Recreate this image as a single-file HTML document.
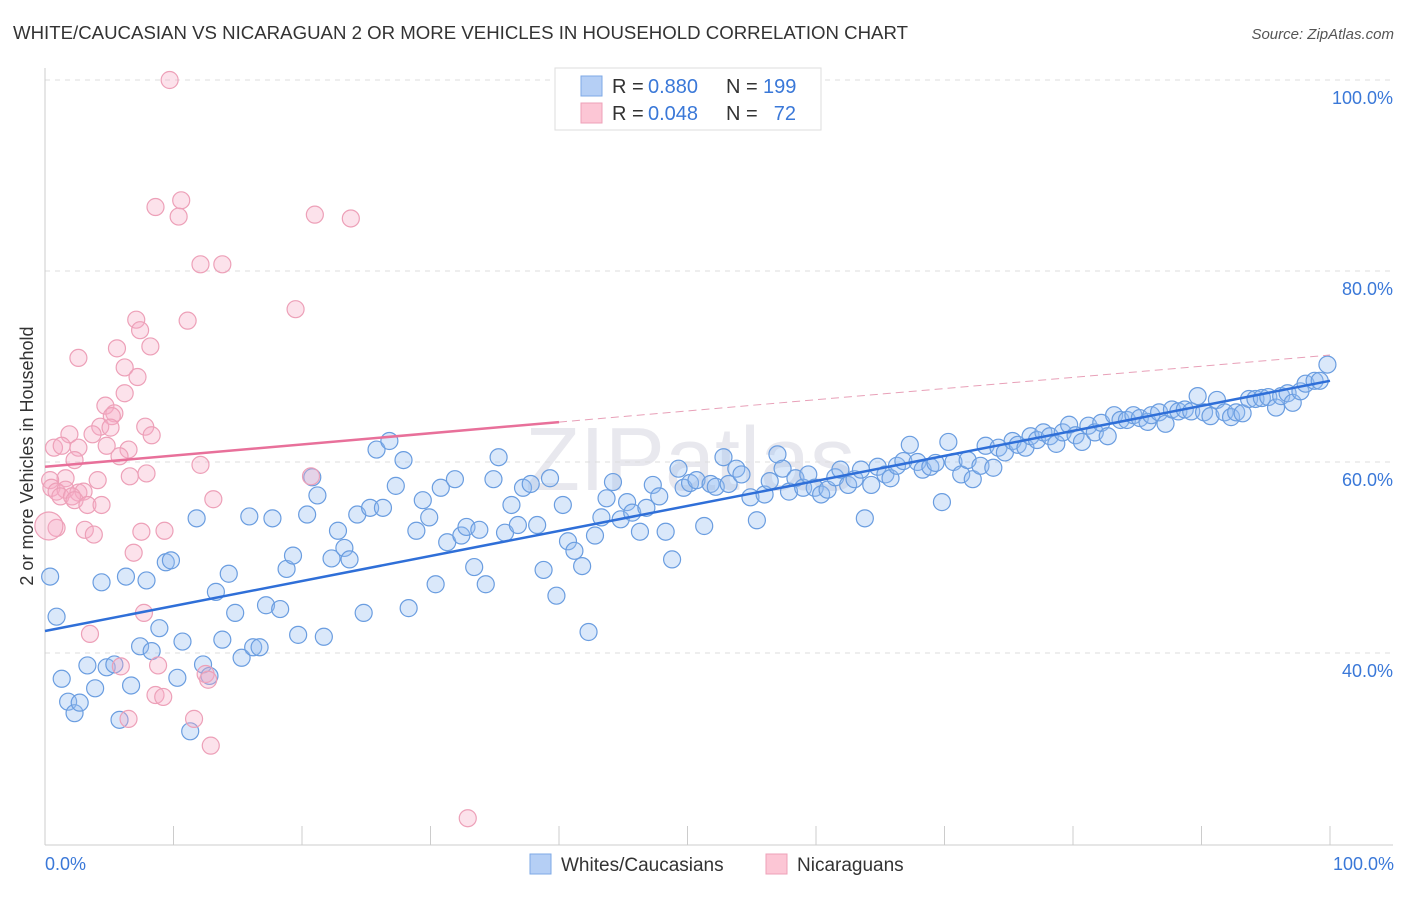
<!DOCTYPE html>
<html><head><meta charset="utf-8"><style>
body{margin:0;background:#fff;font-family:"Liberation Sans",sans-serif;}
svg text{font-family:"Liberation Sans",sans-serif;}
</style></head><body>
<svg id="chart" width="1406" height="892" xmlns="http://www.w3.org/2000/svg">
<text x="13" y="39" font-size="18" fill="#333" textLength="895" lengthAdjust="spacingAndGlyphs">WHITE/CAUCASIAN VS NICARAGUAN 2 OR MORE VEHICLES IN HOUSEHOLD CORRELATION CHART</text>
<text x="1394" y="39" font-size="15" fill="#555" text-anchor="end" font-style="italic">Source: ZipAtlas.com</text>
<text x="690" y="490" font-size="90" fill="#e8e8ee" text-anchor="middle" font-family="Liberation Serif">ZIPatlas</text>
<g id="grid"></g>
<g id="marks"></g>
<text transform="translate(33,456) rotate(-90)" font-size="18" fill="#333" text-anchor="middle">2 or more Vehicles in Household</text>
<text x="45" y="870" font-size="18" fill="#3a78d8">0.0%</text>
<text x="1394" y="870" font-size="18" fill="#3a78d8" text-anchor="end">100.0%</text>
<g>
<rect x="555" y="68" width="266" height="62" fill="#fff" stroke="#ddd"/>
<rect x="581" y="76" width="21" height="20" fill="#b5cff5" stroke="#7ea8e6"/>
<rect x="581" y="103" width="21" height="20" fill="#fcc6d5" stroke="#eea0b8"/>
<text x="612" y="93" font-size="20" fill="#333">R =</text>
<text x="648" y="93" font-size="20" fill="#3a78d8">0.880</text>
<text x="726" y="93" font-size="20" fill="#333">N =</text>
<text x="763" y="93" font-size="20" fill="#3a78d8">199</text>
<text x="612" y="120" font-size="20" fill="#333">R =</text>
<text x="648" y="120" font-size="20" fill="#3a78d8">0.048</text>
<text x="726" y="120" font-size="20" fill="#333">N =</text>
<text x="796" y="120" font-size="20" fill="#3a78d8" text-anchor="end">72</text>
</g>
<g>
<rect x="530" y="854" width="21" height="20" fill="#b5cff5" stroke="#7ea8e6"/>
<text x="561" y="871" font-size="19" fill="#333">Whites/Caucasians</text>
<rect x="766" y="854" width="21" height="20" fill="#fcc6d5" stroke="#eea0b8"/>
<text x="797" y="871" font-size="19" fill="#333">Nicaraguans</text>
</g>
</svg>
<script>
const blueX=[0.4,0.9,1.3,1.8,2.3,2.7,3.3,3.9,4.4,4.8,5.4,5.8,6.3,6.7,7.4,7.9,8.3,8.9,9.4,9.8,10.3,10.7,11.3,11.8,12.3,12.8,13.3,13.8,14.3,14.8,15.3,15.9,16.2,16.7,17.2,17.7,18.3,18.8,19.3,19.7,20.4,20.8,21.2,21.7,22.3,22.8,23.3,23.7,24.3,24.8,25.3,25.8,26.3,26.8,27.3,27.9,28.3,28.9,29.4,29.9,30.4,30.8,31.3,31.9,32.4,32.8,33.4,33.8,34.3,34.9,35.3,35.8,36.3,36.8,37.2,37.8,38.3,38.8,39.3,39.8,40.3,40.7,41.2,41.8,42.3,42.8,43.3,43.7,44.2,44.8,45.3,45.7,46.3,46.8,47.3,47.8,48.3,48.8,49.3,49.7,50.2,50.7,51.3,51.8,52.2,52.8,53.2,53.8,54.2,54.9,55.4,56.0,56.4,57.0,57.4,57.9,58.4,59.0,59.4,59.9,60.4,60.9,61.5,61.9,62.5,63.0,63.5,63.8,64.3,64.8,65.4,65.8,66.3,66.8,67.3,67.9,68.3,68.9,69.3,69.8,70.3,70.7,71.3,71.8,72.2,72.8,73.2,73.8,74.2,74.7,75.3,75.7,76.3,76.7,77.2,77.7,78.2,78.7,79.2,79.7,80.2,80.7,81.2,81.7,82.2,82.7,83.2,83.7,84.2,84.7,85.2,85.8,86.1,86.7,87.2,87.7,88.2,88.7,89.2,89.7,90.2,90.7,91.2,91.8,92.3,92.7,93.2,93.7,94.2,94.7,95.2,95.8,96.2,96.7,97.1,97.7,98.1,98.8,99.2,99.8];
const blueY=[48.0,43.8,37.3,34.9,33.7,34.8,38.7,36.3,47.4,38.5,38.8,33.0,48.0,36.6,40.7,47.6,40.2,42.6,49.5,49.7,37.4,41.2,31.8,54.1,38.8,37.6,46.4,41.4,48.3,44.2,39.5,54.3,40.6,40.6,45.0,54.1,44.6,48.8,50.2,41.9,54.5,58.4,56.5,41.7,49.9,52.8,51.0,49.8,54.5,44.2,55.2,61.3,55.2,62.2,57.5,60.2,44.7,52.8,56.0,54.2,47.2,57.3,51.6,58.2,52.3,53.2,49.0,52.9,47.2,58.2,60.5,52.6,55.5,53.4,57.3,57.7,53.4,48.7,58.3,46.0,55.5,51.7,50.7,49.1,42.2,52.3,54.2,56.2,57.9,54.0,55.8,54.7,52.7,55.2,57.6,56.4,52.7,49.8,59.3,57.3,57.8,58.1,53.3,57.7,57.4,60.5,57.7,59.3,58.7,56.3,53.9,56.6,58.0,60.8,59.3,56.9,58.3,57.3,58.7,57.3,56.6,57.1,58.4,59.2,57.6,58.2,59.2,54.1,57.6,59.5,58.7,58.3,59.6,60.1,61.8,60.0,59.2,59.5,59.9,55.8,62.1,60.0,58.7,60.2,58.2,59.6,61.7,59.4,61.5,61.0,62.2,61.8,61.5,62.7,62.3,63.1,62.7,61.9,63.1,63.9,62.8,62.1,63.8,63.1,64.1,62.7,64.9,64.4,64.4,64.9,64.6,64.2,64.9,65.2,64.0,65.5,65.3,65.5,65.3,66.9,65.2,64.8,66.5,65.2,64.7,65.2,65.1,66.6,66.6,66.7,66.8,65.7,66.9,67.2,66.2,67.4,68.2,68.5,68.5,70.2];
const pinkX=[9.7,8.6,10.6,10.4,21.0,23.8,12.1,13.8,19.5,7.1,11.1,7.4,5.6,8.2,2.6,6.2,7.2,6.2,4.7,5.4,5.2,7.8,4.3,5.1,3.7,1.9,8.3,0.7,1.3,4.8,2.6,6.5,5.8,2.3,12.1,7.9,20.7,6.6,4.1,1.6,0.4,0.5,0.9,1.6,2.6,3.0,1.2,2.1,2.3,13.1,3.3,4.4,0.9,3.1,3.8,7.5,9.3,6.9,7.7,3.5,5.9,8.8,12.5,12.7,8.6,9.2,6.5,11.6,12.9,32.9,0.3];
const pinkY=[100,86.7,87.4,85.7,85.9,85.5,80.7,80.7,76.0,74.9,74.8,73.8,71.9,72.1,70.9,69.9,68.9,67.2,65.9,65.1,64.8,63.7,63.7,63.6,62.9,62.9,62.8,61.5,61.7,61.7,61.5,61.3,60.6,60.2,59.7,58.8,58.5,58.5,58.1,58.3,58.1,57.3,56.9,57.1,56.8,56.9,56.4,56.4,56.0,56.1,55.5,55.5,53.1,52.9,52.4,52.7,52.8,50.5,44.2,42.0,38.6,38.7,37.8,37.2,35.6,35.4,33.1,33.1,30.3,22.7,53.3];
const yTicks=[40,60,80,100];
const xTicks=[0,10,20,30,40,50,60,70,80,90,100];
const blueTrend=[42.3,68.5];
const pinkTrend=[59.5,71.2];
const NS='http://www.w3.org/2000/svg';
const X=v=>45+v*12.85, Y=v=>1035-v*9.55;
const grid=document.getElementById('grid'), marks=document.getElementById('marks');
function mk(tag,attrs,parent){const e=document.createElementNS(NS,tag);for(const k in attrs)e.setAttribute(k,attrs[k]);parent.appendChild(e);return e;}
yTicks.forEach(t=>{
 const l=mk('line',{x1:45,x2:1393,y1:Y(t),y2:Y(t),stroke:'#ddd','stroke-dasharray':'5,5'},grid);
 
 
 const tx=mk('text',{x:1393,y:Y(t)+24,'font-size':18,fill:'#3a78d8','text-anchor':'end'},grid);
 tx.textContent=t.toFixed(1)+'%';
 
 
});
const ax=mk('line',{x1:45,x2:1393,y1:845,y2:845,stroke:'#ccc'},grid);


const ay=mk('line',{x1:45,x2:45,y1:68,y2:845,stroke:'#ccc'},grid);


xTicks.forEach(t=>{
 const l=mk('line',{x1:X(t),x2:X(t),y1:826,y2:845,stroke:'#ccc'},grid);
 
 
});
blueX.forEach((x,i)=>{
 const c=mk('circle',{cx:X(x),cy:Y(blueY[i]),r:8.5,fill:'rgba(150,188,240,0.35)',stroke:'#6a9de0','stroke-width':1.2},marks);
 
 
});
pinkX.forEach((x,i)=>{
 const c=mk('circle',{cx:X(x),cy:Y(pinkY[i]),r:i==pinkX.length-1?14:8.5,fill:'rgba(246,172,198,0.35)',stroke:'#eda0b8','stroke-width':1.2},marks);
 
 
});
const bt=mk('line',{x1:X(0),y1:Y(blueTrend[0]),x2:X(100),y2:Y(blueTrend[1]),stroke:'#2f6fd8','stroke-width':2.5},marks);


const pm=pinkTrend[0]+(pinkTrend[1]-pinkTrend[0])*0.4;
const pt=mk('line',{x1:X(0),y1:Y(pinkTrend[0]),x2:X(40),y2:Y(pm),stroke:'#e8709a','stroke-width':2.5},marks);


const pd=mk('line',{x1:X(40),y1:Y(pm),x2:X(100),y2:Y(pinkTrend[1]),stroke:'#e8a0b8','stroke-width':1,'stroke-dasharray':'8,5'},marks);


</script>
</body></html>
